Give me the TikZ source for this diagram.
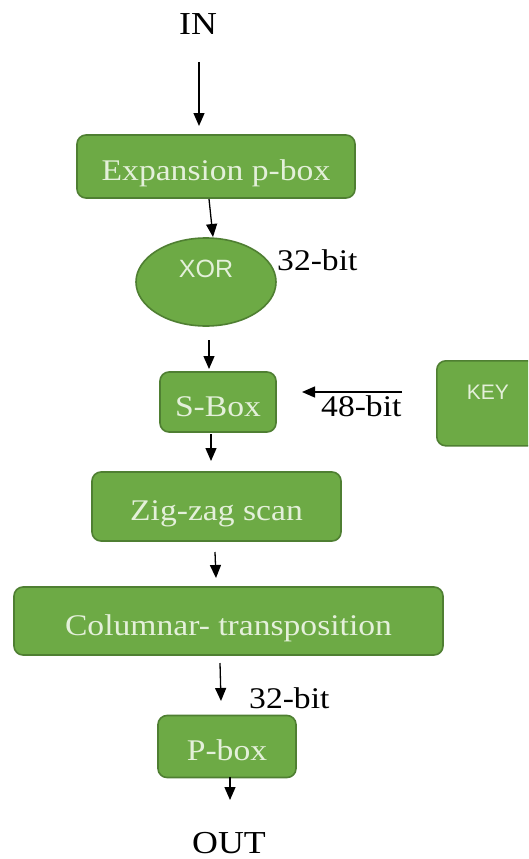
\documentclass[tikz,border=0pt]{standalone}
\usepackage{fontspec}
\setmainfont[FakeStretch=1.12]{Liberation Serif}
\newfontfamily\labelsans{Liberation Sans}
\usetikzlibrary{shapes.geometric,arrows.meta}
\definecolor{boxfill}{HTML}{6DAA45}
\definecolor{boxedge}{HTML}{4F7F32}
\definecolor{boxtext}{HTML}{E4F0DA}
\tikzset{
  stage/.style={draw=boxedge, line width=1.6pt, fill=boxfill, rounded corners=9pt,
    text=boxtext, font=\fontsize{30}{34}\selectfont, inner sep=0pt,
    text height=28pt, text depth=0pt},
  oval/.style={ellipse, draw=boxedge, line width=1.6pt, fill=boxfill,
    text=boxtext, font=\labelsans\fontsize{25}{28}\selectfont, inner sep=0pt,
    text height=18pt, text depth=28pt},
  plain/.style={text=black, font=\fontsize{32}{36}\selectfont, inner sep=0pt},
  bitlabel/.style={text=black, font=\fontsize{30}{34}\selectfont, inner sep=0pt, anchor=west},
  flow/.style={-{Triangle[length=13pt,width=11pt]}, line width=1.3pt, black},
}
\begin{document}
\begin{tikzpicture}[x=1pt,y=-1pt]
\clip (0,0) rectangle (528,859);
\useasboundingbox (0,0) rectangle (528,859);
\fill[white] (0,0) rectangle (528,859);

% text terminals
\node[plain] (in) at (198,24) {IN};
\node[plain] (out) at (229,843) {OUT};

% processing stages
\node[stage, minimum width=278pt, minimum height=63pt] (exp) at (216,166.5) {Expansion p-box};
\node[oval, minimum width=140pt, minimum height=88pt] (xor) at (206,282) {XOR};
\node[stage, minimum width=116pt, minimum height=60pt] (sbox) at (218,402) {S-Box};
\node[stage, minimum width=249pt, minimum height=69pt] (zig) at (216.5,506.5) {Zig-zag scan};
\node[stage, minimum width=429pt, minimum height=68pt] (col) at (228.5,621) {Columnar- transposition};
\node[stage, minimum width=138pt, minimum height=62pt] (pbox) at (227,746.5) {P-box};
\node[stage, minimum width=102pt, minimum height=85pt, font=\labelsans\fontsize{21}{24}\selectfont,
  anchor=north west, text height=39pt, text depth=46pt] (key) at (436,360) {KEY};

% bit-width labels
\node[bitlabel] (lbl32a) at (277,260) {32-bit};
\node[bitlabel] (lbl48) at (321,406) {48-bit};
\node[bitlabel] (lbl32b) at (249,698) {32-bit};

% connectors
\coordinate (a0) at (199,62);
\coordinate (a1) at (199,126);
\draw[flow] (a0) -- (a1);
\coordinate (b0) at (209,199);
\coordinate (b1) at (213,237);
\draw[flow] (b0) -- (b1);
\coordinate (c0) at (209,340);
\coordinate (c1) at (209,369);
\draw[flow] (c0) -- (c1);
\coordinate (k0) at (402,392);
\coordinate (k1) at (302,392);
\draw[flow] (k0) -- (k1);
\coordinate (d0) at (211,434);
\coordinate (d1) at (211,461);
\draw[flow] (d0) -- (d1);
\coordinate (e0) at (215,552);
\coordinate (e1) at (216,578);
\draw[flow] (e0) -- (e1);
\coordinate (f0) at (220,663);
\coordinate (f1) at (221,701);
\draw[flow] (f0) -- (f1);
\coordinate (g0) at (230,777);
\coordinate (g1) at (230,800);
\draw[flow] (g0) -- (g1);
\end{tikzpicture}
\end{document}
